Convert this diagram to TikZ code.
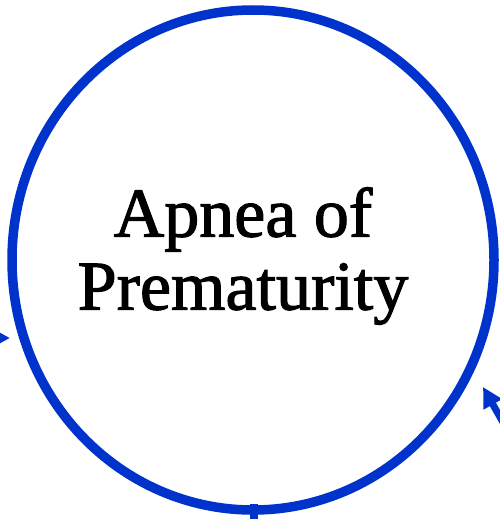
\documentclass[tikz,border=0pt]{standalone}
\usepackage{fontspec}
\setmainfont[FakeBold=1.6]{Liberation Serif}
\usetikzlibrary{shapes.geometric, arrows.meta}
\definecolor{cycleblue}{RGB}{0,51,204}

\begin{document}
\begin{tikzpicture}[x=1pt, y=-1pt,
        flow/.style={draw=cycleblue, line width=7pt, -{Triangle[length=20pt, width=20pt]}},
        ring/.style={ellipse, draw=cycleblue, line width=9.5pt, inner sep=0pt}]
        \useasboundingbox (0,0) rectangle (500,519);
        \clip (0,0) rectangle (500,519);
        \node[ring, minimum width=482pt, minimum height=500pt] (apnea) at (253,260) {};
        \node[align=center, font=\fontsize{70}{73}\selectfont] (title) at (243,256) {Apnea of\\Prematurity};
        \coordinate (leftin) at (-40,338);
        \coordinate (lefttip) at (10,338);
        \coordinate (rightin) at (530,470);
        \coordinate (righttip) at (483,387);
        \coordinate (bottomin) at (254,560);
        \coordinate (bottomend) at (254,504);
        \draw[flow] (leftin) -- (lefttip);
        \draw[flow] (rightin) -- (righttip);
        \draw[cycleblue, line width=8pt] (bottomin) -- (bottomend);
    \end{tikzpicture}
\end{document}
